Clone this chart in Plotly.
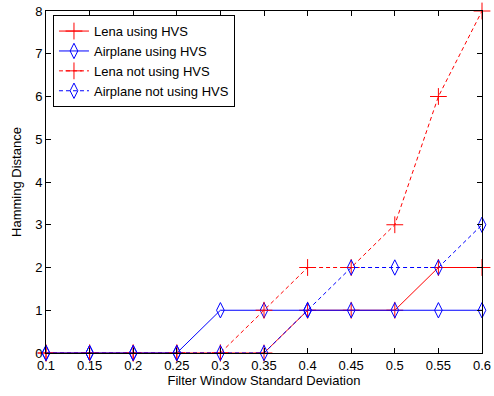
import plotly.graph_objects as go

x_vals = [0.1, 0.15, 0.2, 0.25, 0.3, 0.35, 0.4, 0.45, 0.5, 0.55, 0.6]
lena_hvs = [0, 0, 0, 0, 0, 0, 1, 1, 1, 2, 2]
airplane_hvs = [0, 0, 0, 0, 1, 1, 1, 1, 1, 1, 1]
lena_no_hvs = [0, 0, 0, 0, 0, 1, 2, 2, 3, 6, 8]
airplane_no_hvs = [0, 0, 0, 0, 0, 0, 1, 2, 2, 2, 3]
x_ticks = [0.1, 0.15, 0.2, 0.25, 0.3, 0.35, 0.4, 0.45, 0.5, 0.55, 0.6]
y_ticks = [0, 1, 2, 3, 4, 5, 6, 7, 8]

RED = "#FF0000"
BLUE = "#0000FF"
FONT = "Liberation Sans, Arial"

fig = go.Figure()
series = [
    ("Lena using HVS", lena_hvs, RED, "solid", "cross-thin-open", 12),
    ("Airplane using HVS", airplane_hvs, BLUE, "solid", "diamond-tall-open", 11),
    ("Lena not using HVS", lena_no_hvs, RED, "4px,3px", "cross-thin-open", 12),
    ("Airplane not using HVS", airplane_no_hvs, BLUE, "4px,3px", "diamond-tall-open", 11),
]
for name, ys, col, dash, sym, sz in series:
    fig.add_trace(go.Scatter(
        x=x_vals, y=ys, name=name, mode="lines+markers", cliponaxis=False,
        line=dict(color=col, width=1, dash=dash),
        marker=dict(symbol=sym, size=sz, color=col, line=dict(color=col, width=1)),
    ))

axis_common = dict(
    showline=True, linecolor="black", linewidth=1, mirror="ticks",
    ticks="inside", ticklen=5, tickcolor="black", showgrid=False, zeroline=False,
    automargin=False,
    tickfont=dict(family=FONT, size=13, color="black"),
)
fig.update_xaxes(range=[0.1, 0.6], tickvals=x_ticks, ticktext=[f"{v:g}" for v in x_ticks],
                 title=dict(text="Filter Window Standard Deviation", standoff=3,
                            font=dict(family=FONT, size=13, color="black")),
                 **axis_common)
fig.update_yaxes(range=[0, 8], tickvals=y_ticks,
                 title=dict(text="Hamming Distance", standoff=10,
                            font=dict(family=FONT, size=13, color="black")),
                 **axis_common)

fig.update_layout(
    width=494, height=396,
    margin=dict(l=46, r=12, t=11, b=43),
    paper_bgcolor="white", plot_bgcolor="white",
    showlegend=True,
    legend=dict(x=0.016, y=0.988, xanchor="left", yanchor="top",
                bgcolor="white", bordercolor="black", borderwidth=1,
                font=dict(family=FONT, size=13, color="black"),
                tracegroupgap=0, itemwidth=30),
)
fig.write_html("out.html")
